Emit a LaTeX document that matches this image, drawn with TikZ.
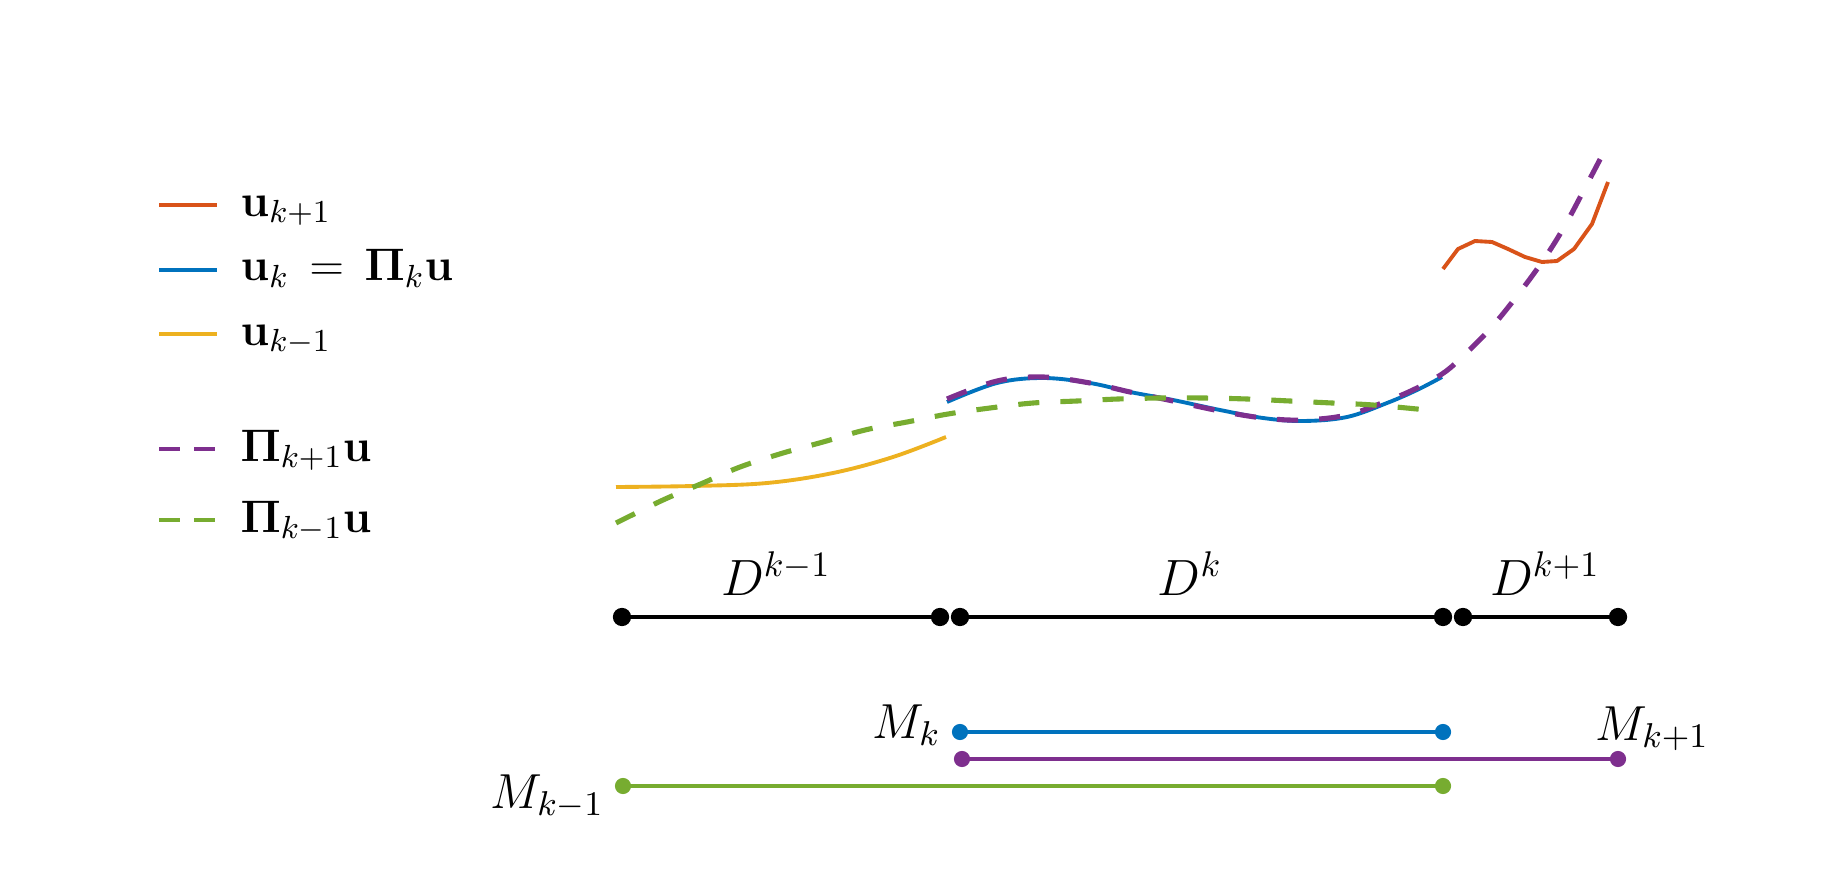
\RequirePackage{fix-cm}
\documentclass[tikz,border=0pt]{standalone}
\usepackage{amsmath}
\definecolor{morange}{HTML}{D95319}
\definecolor{mblue}{HTML}{0072BD}
\definecolor{myellow}{HTML}{EDB120}
\definecolor{mpurple}{HTML}{7E2F8E}
\definecolor{mgreen}{HTML}{77AC30}
\begin{document}
\begin{tikzpicture}[x=0.01cm,y=-0.01cm,
  curve/.style={line width=1.1pt},
  dcurve/.style={line width=1.45pt, dash pattern=on 6pt off 6pt},
  legline/.style={line width=1.15pt},
  legdash/.style={line width=1.15pt, dash pattern=on 6pt off 4pt},
  legtext/.style={anchor=base west, inner sep=0pt, font=\fontsize{13}{15}\selectfont},
  dlabel/.style={anchor=base, inner sep=0pt, font=\fontsize{14.5}{16}\selectfont},
  mlabel/.style={anchor=base west, inner sep=0pt, font=\fontsize{14}{16}\selectfont},
  seg/.style={line width=1.4pt},
  mseg/.style={line width=1.15pt},
  bdot/.style={radius=2.6pt},
  cdot/.style={radius=2.3pt}]
\useasboundingbox (0,0) rectangle (1833,870);

% legend
\coordinate (l1a) at (159,205); \coordinate (l1b) at (217,205);
\coordinate (l2a) at (159,270); \coordinate (l2b) at (217,270);
\coordinate (l3a) at (159,334); \coordinate (l3b) at (217,334);
\coordinate (l4a) at (159,449); \coordinate (l4b) at (217,449);
\coordinate (l5a) at (159,520); \coordinate (l5b) at (217,520);
\draw[legline, morange] (l1a) -- (l1b);
\draw[legline, mblue] (l2a) -- (l2b);
\draw[legline, myellow] (l3a) -- (l3b);
\draw[legdash, mpurple] (l4a) -- (l4b);
\draw[legdash, mgreen] (l5a) -- (l5b);
\node[legtext] (t1) at (240,216) {$\mathbf{u}_{k+1}$};
\node[legtext] (t2) at (240,281) {$\mathbf{u}_{k}\,=\,\mathbf{\Pi}_{k}\mathbf{u}$};
\node[legtext] (t3) at (240,345) {$\mathbf{u}_{k-1}$};
\node[legtext] (t4) at (240,461) {$\mathbf{\Pi}_{k+1}\mathbf{u}$};
\node[legtext] (t5) at (240,532) {$\mathbf{\Pi}_{k-1}\mathbf{u}$};

% curves
\draw[curve, morange, line join=round] (1443,269) -- (1458,249) -- (1475,241) -- (1492,242) -- (1508,249) -- (1525,257) -- (1542,262) -- (1557,261) -- (1574,249) -- (1592,224) -- (1608,182);
\draw[curve, myellow] plot[smooth, tension=0.6] coordinates {(616,487) (693,486) (767,483) (833,473) (893,457) (946,437)};
\draw[curve, mblue] plot[smooth, tension=0.6] coordinates {(947,402) (997,383) (1043,378) (1090,383) (1130,392) (1173,400) (1220,410) (1263,418) (1303,421) (1347,417) (1387,403) (1417,390) (1442,377)};
\draw[dcurve, mpurple] plot[smooth, tension=0.6] coordinates {(947,399) (997,381) (1043,377) (1090,383) (1130,392) (1173,401) (1220,411) (1263,418) (1303,420) (1347,415) (1387,401) (1417,388) (1442,374) (1460,359) (1490,329) (1517,296) (1542,262) (1563,229) (1585,188) (1607,146)};
\draw[dcurve, mgreen] plot[smooth, tension=0.6] coordinates {(616,523) (663,500) (703,483) (740,467) (783,453) (823,442) (865,430) (907,422) (948,414) (990,408) (1033,403) (1077,401) (1118,399) (1160,398) (1203,398) (1247,399) (1290,401) (1332,403) (1373,405) (1427,410)};

% subdomains
\coordinate (a0) at (622,617); \coordinate (a1) at (940,617);
\coordinate (b0) at (960,617); \coordinate (b1) at (1443,617);
\coordinate (c0) at (1463,617); \coordinate (c1) at (1618,617);
\draw[seg] (a0) -- (a1); \draw[seg] (b0) -- (b1); \draw[seg] (c0) -- (c1);
\foreach \p in {a0,a1,b0,b1,c0,c1} \fill (\p) circle[bdot];
\node[dlabel] (dkm) at (776,595) {$D^{k-1}$};
\node[dlabel] (dk) at (1190,595) {$D^{k}$};
\node[dlabel] (dkp) at (1545,595) {$D^{k+1}$};

% patches
\coordinate (mk0) at (960,732); \coordinate (mk1) at (1443,732);
\coordinate (mp0) at (962,759); \coordinate (mp1) at (1618,759);
\coordinate (mm0) at (623,786); \coordinate (mm1) at (1443,786);
\draw[mseg, mblue] (mk0) -- (mk1);
\draw[mseg, mpurple] (mp0) -- (mp1);
\draw[mseg, mgreen] (mm0) -- (mm1);
\foreach \p in {mk0,mk1} \fill[mblue] (\p) circle[cdot];
\foreach \p in {mp0,mp1} \fill[mpurple] (\p) circle[cdot];
\foreach \p in {mm0,mm1} \fill[mgreen] (\p) circle[cdot];
\node[mlabel] (lmk) at (872,738) {$M_{k}$};
\node[mlabel] (lmp) at (1595,740) {$M_{k+1}$};
\node[mlabel] (lmm) at (490,808) {$M_{k-1}$};
\end{tikzpicture}
\end{document}
